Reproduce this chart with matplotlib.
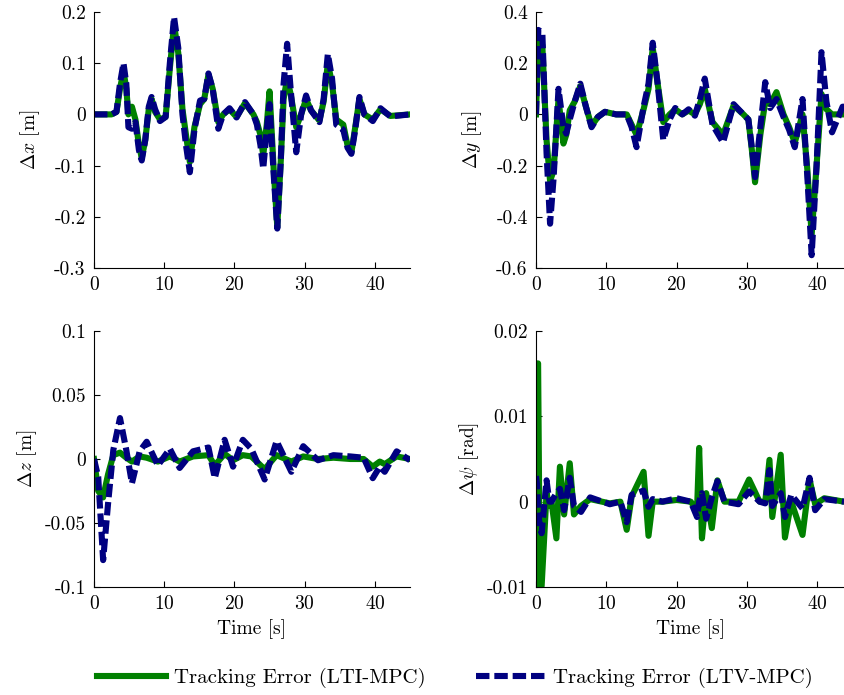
import numpy as np
import matplotlib
matplotlib.use("Agg")
import matplotlib.pyplot as plt
from matplotlib.ticker import FuncFormatter

plt.rcParams["font.family"] = "cmr10"
plt.rcParams["mathtext.fontset"] = "cm"
plt.rcParams["axes.unicode_minus"] = False
plt.rcParams["axes.formatter.use_mathtext"] = True

# ---- data ----
# delta x [m]
tx = [0, 2.5, 3.2, 3.7, 4.2, 4.6, 4.9, 5.4, 5.9, 6.4, 6.8, 7.3, 7.8, 8.2, 8.7, 9.4, 10.2, 10.8,
      11.4, 12.0, 12.6, 13.1, 13.65, 14.3, 15.1, 15.7, 16.3, 16.9, 17.7, 18.4, 19.3, 20.3, 21.5,
      22.7, 23.2, 23.7, 24.1, 24.6, 25.0, 25.6, 26.1, 26.6, 27.0, 27.5, 28.0, 28.8, 29.5, 30.2,
      30.9, 32.1, 32.7, 33.3, 33.9, 34.5, 35.5, 36.1, 36.65, 37.2, 37.8, 38.5, 39.7, 40.8, 42.2, 45]
dx_ltv = [0, 0, 0.005, 0.06, 0.10, 0.06, -0.025, -0.028, -0.015, -0.07, -0.09, -0.05, 0.015, 0.034,
          0.01, -0.013, -0.005, 0.10, 0.19, 0.13, 0.0, -0.06, -0.113, -0.03, 0.027, 0.03, 0.08, 0.05,
          -0.028, 0.0, 0.012, -0.006, 0.024, 0.0, -0.02, -0.06, -0.106, -0.03, 0.02, -0.12, -0.223,
          -0.09, 0.06, 0.138, 0.05, -0.074, 0.0, 0.037, 0.008, -0.015, 0.03, 0.118, 0.07, -0.02,
          -0.03, -0.065, -0.077, -0.03, 0.034, 0.0, -0.013, 0.012, -0.004, 0]
dx_lti = [0, 0, 0.005, 0.05, 0.085, 0.05, 0.0, 0.015, -0.01, -0.06, -0.085, -0.05, 0.01, 0.03,
          0.005, -0.01, -0.005, 0.09, 0.175, 0.12, 0.01, -0.04, -0.093, -0.025, 0.02, 0.03, 0.078,
          0.05, -0.015, 0.0, 0.01, -0.005, 0.022, 0.0, -0.015, -0.04, -0.08, -0.02, 0.045, -0.11,
          -0.22, -0.09, 0.03, 0.07, 0.04, -0.025, 0.0, 0.03, 0.008, -0.012, 0.025, 0.1, 0.06, -0.01,
          -0.02, -0.06, -0.075, -0.025, 0.03, 0.0, -0.01, 0.01, -0.003, 0]

# delta y [m]
ty = [0, 0.33, 0.9, 1.5, 2.0, 2.5, 3.2, 3.9, 4.3, 4.8, 5.5, 6.3, 7.1, 7.9, 8.8, 9.8, 11.4, 12.9,
      13.6, 14.3, 15.3, 16.0, 16.6, 17.3, 18.1, 19.0, 19.8, 20.8, 21.7, 22.6, 23.3, 24.0, 25.1,
      26.6, 28.1, 29.5, 30.2, 30.7, 31.15, 31.9, 32.6, 33.3, 34.2, 35.2, 36.0, 36.8, 37.9, 38.6,
      39.2, 39.9, 40.6, 41.3, 42.1, 43.6, 44]
dy_ltv = [0, 0.33, 0.32, -0.15, -0.427, -0.25, 0.10, -0.05, -0.075, -0.02, 0.05, 0.12, 0.03, -0.05,
          -0.01, 0.01, 0.0, 0.0, -0.05, -0.128, 0.03, 0.12, 0.28, 0.12, -0.1, -0.02, 0.025, 0.0,
          0.02, -0.005, 0.06, 0.14, -0.04, -0.11, 0.04, 0.0, -0.02, -0.13, -0.245, -0.05, 0.126,
          0.025, 0.06, -0.01, -0.06, -0.128, 0.06, -0.25, -0.55, -0.2, 0.243, 0.05, -0.07, 0.03, 0.03]
dy_lti = [0, 0.29, 0.27, -0.1, -0.26, -0.22, 0.06, -0.114, -0.08, 0.016, 0.05, 0.11, 0.03, -0.045,
          -0.01, 0.01, 0.0, 0.0, -0.04, -0.08, 0.02, 0.1, 0.26, 0.12, -0.03, 0.0, 0.02, 0.0, 0.015,
          0.0, 0.04, 0.1, -0.03, -0.08, 0.035, 0.0, -0.02, -0.14, -0.265, -0.08, 0.05, 0.04, 0.087,
          0.0, -0.05, -0.11, 0.0, -0.22, -0.47, -0.2, 0.08, 0.02, 0.0, 0.0, 0.0]

# delta z [m]
tz = [0, 0.6, 1.3, 2.0, 2.75, 3.7, 4.6, 5.4, 6.5, 7.5, 9.1, 10.8, 12.2, 14.1, 16.3, 17.2, 18.6,
      19.8, 21.2, 22.4, 24.3, 26.0, 28.1, 29.8, 31.9, 34.1, 36.5, 38.4, 39.7, 40.7, 41.4, 43.1, 45]
dz_ltv = [0, -0.014, -0.079, -0.035, 0.007, 0.032, 0.007, -0.019, 0.006, 0.0135, -0.005, 0.008,
          -0.007, 0.006, 0.009, -0.015, 0.015, -0.006, 0.015, 0.008, -0.016, 0.014, -0.01, 0.01,
          -0.001, 0.003, 0.002, 0.001, -0.015, -0.006, -0.01, 0.006, -0.001]
dz_lti = [0, -0.025, -0.03, -0.012, 0.003, 0.005, 0.001, -0.002, 0.002, 0.001, -0.002, 0.002,
          -0.002, 0.002, 0.003, -0.005, 0.004, -0.001, 0.003, 0.002, -0.008, 0.003, -0.002, 0.002,
          0.0, 0.001, 0.0, 0.0, -0.006, -0.002, -0.004, 0.002, 0.0]

# delta psi [rad]
tp = [0, 0.15, 0.3, 0.55, 0.8, 1.5, 1.9, 2.2, 2.9, 3.4, 4.0, 4.8, 5.4, 6.4, 7.7, 10.5, 12.0, 12.9,
      13.6, 15.3, 16.0, 16.6, 18.0, 20.0, 22.0, 22.9, 23.2, 23.6, 24.2, 25.0, 25.8, 26.8, 28.8,
      30.3, 31.8, 32.6, 33.2, 33.6, 34.8, 35.4, 36.3, 37.9, 38.9, 39.7, 41.0, 43.8]
dpsi_lti = [0, 0.0162, 0.0162, -0.0099, -0.0099, 0.001, -0.0005, 0.0, -0.0043, 0.0041, -0.0015,
            0.0045, -0.0015, -0.0005, 0.0003, -0.0002, 0.0, -0.0033, 0.0006, 0.0035, -0.004, 0.0,
            0.0, 0.0002, 0.0, -0.001, 0.0063, -0.0043, 0.001, -0.0031, 0.0025, 0.0, 0.0, 0.0026,
            0.0, 0.0, 0.0049, -0.0018, 0.0055, -0.0042, 0.0, -0.0039, 0.0026, -0.0003, 0.0004, 0.0]
dpsi_ltv = [0.003, 0.002, -0.001, -0.003, -0.0037, 0.0025, 0.0, 0.0, 0.001, 0.0015, -0.001, 0.0028,
            -0.0005, -0.0012, 0.0005, -0.0003, 0.0, -0.0024, 0.0008, 0.0013, -0.0006, 0.0003, 0.0,
            0.0004, 0.0, -0.0018, 0.0, 0.001, -0.002, 0.0005, 0.0024, 0.0, -0.0003, 0.0012, 0.0,
            -0.0002, 0.0037, -0.0005, 0.001, -0.0018, 0.0008, -0.0008, 0.0028, -0.001, 0.0003, 0.0]

green = "#008000"
navy = "#000080"

fig = plt.figure(figsize=(8.44, 6.95), dpi=100)
W, H = 844, 695


def make_ax(l, r, t, b):
    return fig.add_axes([l / W, 1 - b / H, (r - l) / W, (b - t) / H])


panels = [
    (make_ax(94, 410, 12, 268), tx, dx_lti, dx_ltv, (0, 45), (-0.3, 0.2), 0.1, r"$\Delta x$ [m]", 9),
    (make_ax(536, 844, 12, 268), ty, dy_lti, dy_ltv, (0, 43.8), (-0.6, 0.4), 0.2, r"$\Delta y$ [m]", 9),
    (make_ax(94, 410, 331, 587), tz, dz_lti, dz_ltv, (0, 45), (-0.1, 0.1), 0.05, r"$\Delta z$ [m]", 4),
    (make_ax(536, 844, 331, 587), tp, dpsi_lti, dpsi_ltv, (0, 43.8), (-0.01, 0.02), 0.01,
     r"$\Delta \psi$ [rad]", 4),
]

fmt = FuncFormatter(lambda v, p: "%g" % round(v, 6))
for i, (ax, t, lti, ltv, xl, yl, step, lab, lpad) in enumerate(panels):
    l1, = ax.plot(t, lti, color=green, lw=4.4, label="Tracking Error (LTI-MPC)")
    l2, = ax.plot(t, ltv, color=navy, lw=4.4, dashes=(2.2, 0.8),
                  label="Tracking Error (LTV-MPC)")
    ax.set_xlim(*xl)
    ax.set_ylim(*yl)
    ax.set_xticks([0, 10, 20, 30, 40])
    ax.set_yticks(np.arange(yl[0], yl[1] + step / 2, step))
    ax.yaxis.set_major_formatter(fmt)
    ax.spines["top"].set_visible(False)
    ax.spines["right"].set_visible(False)
    ax.tick_params(direction="in", length=4, labelsize=14, pad=6)
    ax.set_ylabel(lab, fontsize=14, labelpad=lpad)
    if i >= 2:
        ax.set_xlabel("Time [s]", fontsize=14)

fig.legend(handles=[l1, l2], loc="center", bbox_to_anchor=(455 / W, 1 - 678 / H), ncol=2,
           frameon=False, fontsize=15, handlelength=3.3, columnspacing=2.4, handletextpad=0.4)

fig.savefig("out.png", dpi=100)
